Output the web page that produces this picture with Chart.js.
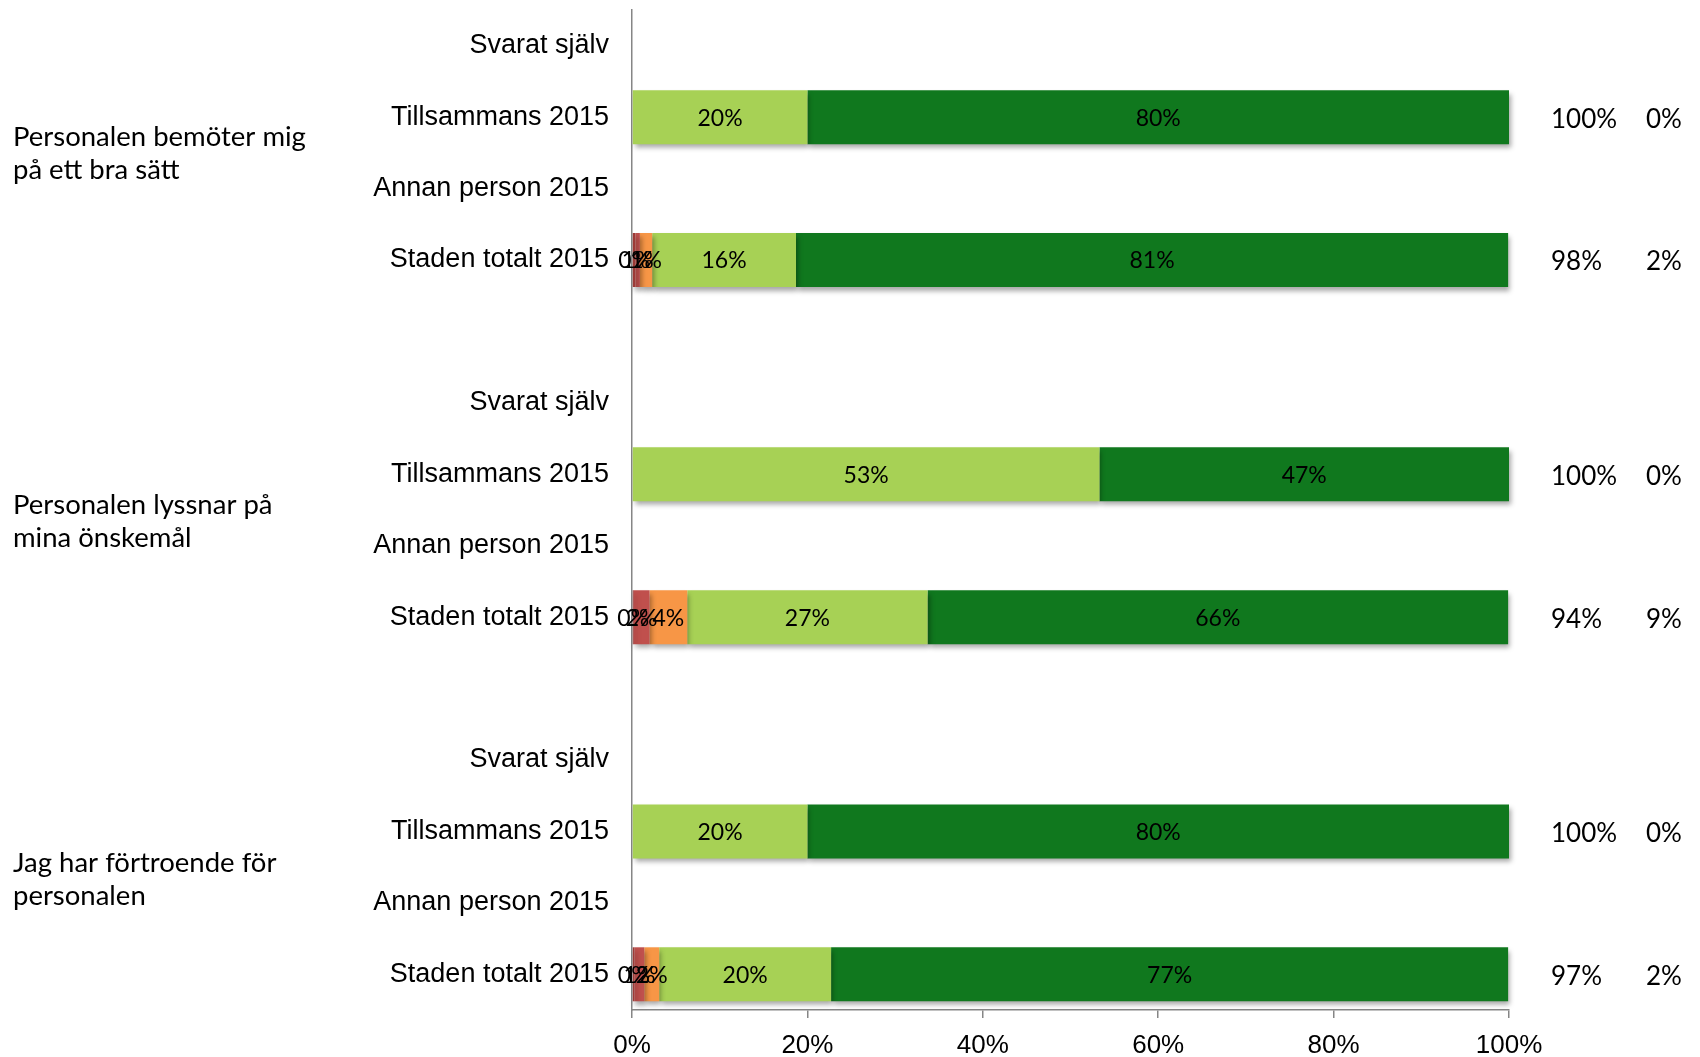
<!DOCTYPE html>
<html lang="sv">
<head>
<meta charset="utf-8">
<title>Bemötande</title>
<script src="https://cdn.jsdelivr.net/npm/chart.js@4.4.1/dist/chart.umd.min.js"></script>
<style>
  html, body { margin: 0; padding: 0; background: #fff; }
  #wrap { width: 1700px; height: 1057px; position: relative; }
</style>
</head>
<body>
<div id="wrap"><canvas id="myChart" width="1700" height="1057"></canvas></div>
<script>
// rader (tomma rader skiljer frågorna åt)
const rowLabels = [
	'Svarat själv', 'Tillsammans 2015', 'Annan person 2015', 'Staden totalt 2015', '',
	'Svarat själv', 'Tillsammans 2015', 'Annan person 2015', 'Staden totalt 2015', '',
	'Svarat själv', 'Tillsammans 2015', 'Annan person 2015', 'Staden totalt 2015'
];

const questions = [
	['Personalen bemöter mig', 'på ett bra sätt'],
	['Personalen lyssnar på', 'mina önskemål'],
	['Jag har förtroende för', 'personalen']
];
// var frågetexten står, i radindex
const questionRow = [1.5, 6.65, 11.67];

// andel per svarsalternativ (%)
const valInteAlls   = [null, null, null, 0.4,  null, null, null, null, 0.2,  null, null, null, null, 0.3];
const valDaligt     = [null, null, null, 0.5,  null, null, null, null, 1.8,  null, null, null, null, 1.1];
const valDelvis     = [null, null, null, 1.4,  null, null, null, null, 4.3,  null, null, null, null, 1.7];
const valGanskaBra  = [null, 20,   null, 16.4, null, null, 53.3, null, 27.4, null, null, 20,   null, 19.6];
const valHelt       = [null, 80,   null, 81.2, null, null, 46.7, null, 66.2, null, null, 80,   null, 77.2];

// summering till höger
const posShare = [null, 100, null, 98, null, null, 100, null, 94, null, null, 100, null, 97];
const negShare = [null, 0,   null, 2,  null, null, 0,   null, 9,  null, null, 0,   null, 2];

const xTicks = [0, 20, 40, 60, 80, 100];

const calibri = 'Lato, "Noto Sans", sans-serif';
const arial = '"Liberation Sans", Arial, sans-serif';

// skugga under staplarna
const barShadow = {
	id: 'barShadow',
	beforeDatasetsDraw(chart) {
		const ctx = chart.ctx;
		ctx.save();
		ctx.shadowColor = 'rgba(0,0,0,0.35)';
		ctx.shadowBlur = 5;
		ctx.shadowOffsetX = 2;
		ctx.shadowOffsetY = 4;
	},
	afterDatasetsDraw(chart) {
		chart.ctx.restore();
	}
};

// procentetiketter i staplarna + texter till vänster och höger
const textLayer = {
	id: 'textLayer',
	afterDatasetsDraw(chart) {
		const ctx = chart.ctx;
		const y = chart.scales.y;
		ctx.save();
		ctx.fillStyle = '#000';
		ctx.textAlign = 'center';
		ctx.textBaseline = 'middle';
		ctx.font = '23px ' + calibri;
		chart.data.datasets.forEach((ds, i) => {
			const meta = chart.getDatasetMeta(i);
			meta.data.forEach((bar, j) => {
				const v = ds.data[j];
				if (v === null || v === undefined) return;
				const c = bar.getCenterPoint();
				ctx.fillText(Math.round(v) + '%', c.x, c.y + 1);
			});
		});

		// summering
		ctx.textAlign = 'left';
		ctx.font = '26px ' + calibri;
		posShare.forEach((v, j) => {
			if (v === null) return;
			const py = y.getPixelForValue(j) + 2;
			ctx.fillText(v + '%', 1551, py);
			ctx.fillText(negShare[j] + '%', 1646, py);
		});

		// frågetexter
		ctx.font = '27.5px ' + calibri;
		questions.forEach((lines, k) => {
			const mid = y.top + (questionRow[k] + 0.5) * (y.height / rowLabels.length);
			ctx.fillText(lines[0], 13, mid - 16);
			ctx.fillText(lines[1], 13, mid + 17);
		});
		ctx.restore();
	}
};

function makeSet(label, data, color) {
	return {
		label: label,
		data: data,
		backgroundColor: color,
		borderWidth: 0,
		barPercentage: 0.756,
		categoryPercentage: 1,
		clip: false
	};
}

const data = {
	labels: rowLabels,
	datasets: [
		makeSet('Stämmer inte alls', valInteAlls, '#9c3a37'),
		makeSet('Stämmer dåligt', valDaligt, '#c0504d'),
		makeSet('Stämmer delvis', valDelvis, '#f79646'),
		makeSet('Stämmer ganska bra', valGanskaBra, '#a7d155'),
		makeSet('Stämmer helt', valHelt, '#10781e')
	]
};

const config = {
	type: 'bar',
	data,
	plugins: [barShadow, textLayer],
	options: {
		indexAxis: 'y',
		responsive: false,
		animation: false,
		layout: { padding: { top: 10, right: 191, left: 0, bottom: 0 } },
		plugins: {
			legend: { display: false },
			tooltip: { enabled: false }
		},
		scales: {
			x: {
				stacked: true,
				min: 0,
				max: 100,
				afterBuildTicks: (scale) => { scale.ticks = xTicks.map(v => ({ value: v })); },
				afterFit: (scale) => { scale.height = 47; },
				grid: { drawOnChartArea: false, drawTicks: true, tickLength: 8, color: '#868686', lineWidth: 1.5 },
				border: { display: true, color: '#868686', width: 1.5 },
				ticks: {
					color: '#000',
					padding: 12,
					font: { family: '"Liberation Sans Narrow", "Liberation Sans", sans-serif', size: 26 },
					callback: (v) => v + '%'
				}
			},
			y: {
				stacked: true,
				afterFit: (scale) => {
					scale.width = 632;
					scale.paddingTop = 0;
					scale.paddingBottom = 0;
				},
				grid: { display: false, drawTicks: false },
				border: { display: true, color: '#868686', width: 1.5 },
				ticks: {
					color: '#000',
					padding: 23,
					autoSkip: false,
					font: { family: arial, size: 27 }
				}
			}
		}
	}
};

var myChart = new Chart(document.getElementById('myChart'), config);
</script>
</body>
</html>
